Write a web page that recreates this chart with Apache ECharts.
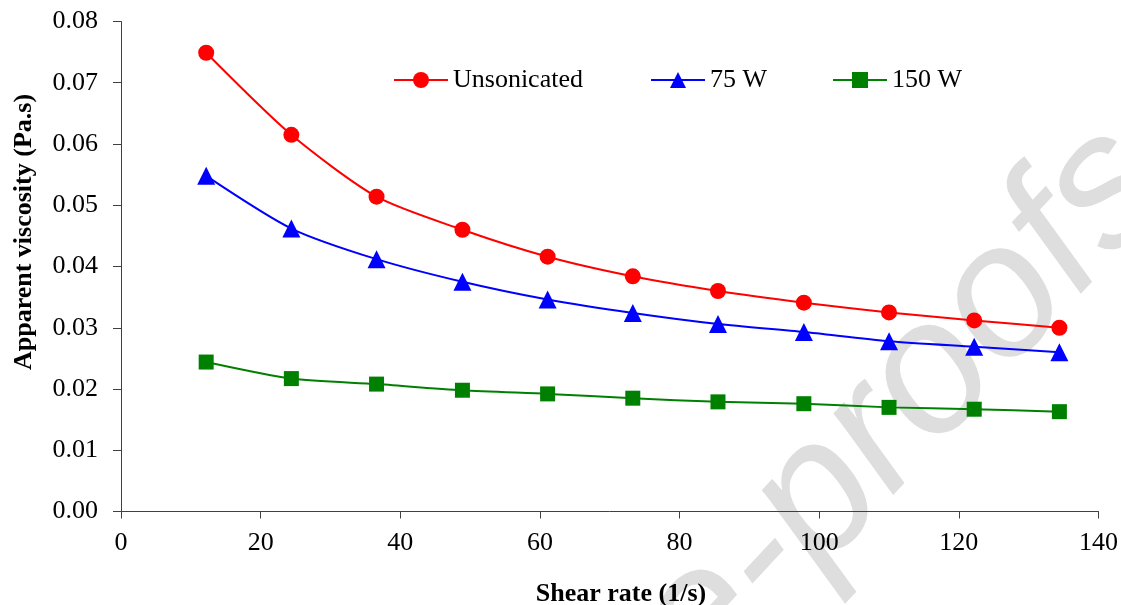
<!DOCTYPE html>
<html>
<head>
<meta charset="utf-8">
<script src="https://cdn.jsdelivr.net/npm/echarts@6/dist/echarts.min.js"></script>
<style>
  html, body { margin: 0; padding: 0; background: #fff; }
  #chart { width: 1121px; height: 605px; }
</style>
</head>
<body>
<div id="chart"></div>
<script>
// shear rate (1/s)
const shearRate = [12.2, 24.4, 36.6, 48.9, 61.1, 73.3, 85.5, 97.8, 110.0, 122.2, 134.4];
// apparent viscosity (Pa.s)
const unsonicated = [0.0749, 0.0615, 0.0514, 0.0460, 0.0416, 0.0384, 0.0360, 0.0341, 0.0325, 0.0312, 0.0300];
const w75 = [0.0548, 0.0462, 0.0412, 0.0375, 0.0346, 0.0324, 0.0306, 0.0293, 0.0278, 0.0269, 0.0260];
const w150 = [0.0244, 0.0217, 0.0208, 0.0198, 0.0192, 0.0185, 0.0179, 0.0176, 0.0170, 0.0167, 0.0163];

const seriesNames = ["Unsonicated", "75 W", "150 W"];

const pairs = (ys) => shearRate.map((x, i) => [x, ys[i]]);

const font = "'Liberation Serif', 'Times New Roman', serif";
const axisColor = "#404040";

const chart = echarts.init(document.getElementById("chart"));

// 图例各自定位
const legendBase = {
  top: 67,
  padding: 0,
  itemWidth: 54,
  itemHeight: 20,
  itemGap: 0,
  textStyle: { fontFamily: font, fontSize: 26, color: "#000" }
};

const option = {
  animation: false,
  backgroundColor: "#fff",
  grid: { left: 121, right: 21, top: 21.5, bottom: 93.5 },
  legend: [
    Object.assign({ data: [seriesNames[0]], left: 393 }, legendBase),
    Object.assign({ data: [seriesNames[1]], left: 650 }, legendBase),
    Object.assign({ data: [seriesNames[2]], left: 832 }, legendBase)
  ],
  xAxis: {
    type: "value",
    min: 0,
    max: 140,
    interval: 20,
    axisLine: { show: true, lineStyle: { color: axisColor, width: 1 } },
    axisTick: { show: true, inside: false, length: 7, lineStyle: { color: axisColor } },
    axisLabel: { fontFamily: font, fontSize: 26, color: "#000", margin: 19 },
    splitLine: { show: false }
  },
  yAxis: {
    type: "value",
    min: 0,
    max: 0.08,
    interval: 0.01,
    axisLine: { show: true, lineStyle: { color: axisColor, width: 1 } },
    axisTick: { show: true, inside: false, length: 8, lineStyle: { color: axisColor } },
    axisLabel: {
      fontFamily: font, fontSize: 26, color: "#000", margin: 23,
      padding: [3, 0, 0, 0],
      formatter: (v) => v.toFixed(2)
    },
    splitLine: { show: false }
  },
  graphic: [
    {
      // watermark
      type: "text",
      z: -10,
      x: 1138,
      y: 156,
      rotation: 0.82,
      silent: true,
      style: {
        text: "Journal Pre-proofs",
        fontFamily: "'Liberation Sans', Arial, sans-serif",
        fontStyle: "italic",
        fontSize: 188,
        fill: "#dedede",
        align: "right",
        verticalAlign: "middle"
      }
    },
    {
      type: "text",
      x: 24,
      y: 232,
      rotation: Math.PI / 2,
      style: {
        text: "Apparent viscosity (Pa.s)",
        fontFamily: font,
        fontSize: 26,
        fontWeight: "bold",
        fill: "#000",
        align: "center",
        verticalAlign: "middle"
      }
    },
    {
      type: "text",
      x: 621,
      y: 594,
      style: {
        text: "Shear rate (1/s)",
        fontFamily: font,
        fontSize: 26,
        fontWeight: "bold",
        fill: "#000",
        align: "center",
        verticalAlign: "middle"
      }
    }
  ],
  series: [
    {
      name: seriesNames[0],
      type: "line",
      data: pairs(unsonicated),
      smooth: 0.25,
      symbol: "circle",
      symbolSize: 16,
      itemStyle: { color: "#ff0000" },
      lineStyle: { color: "#ff0000", width: 2 }
    },
    {
      name: seriesNames[1],
      type: "line",
      data: pairs(w75),
      smooth: 0.25,
      symbol: "triangle",
      symbolSize: 18,
      itemStyle: { color: "#0000ff" },
      lineStyle: { color: "#0000ff", width: 2 }
    },
    {
      name: seriesNames[2],
      type: "line",
      data: pairs(w150),
      smooth: 0.25,
      symbol: "rect",
      symbolSize: 15,
      itemStyle: { color: "#008000" },
      lineStyle: { color: "#008000", width: 2 }
    }
  ]
};

chart.setOption(option);

window.addEventListener("resize", function () {
  chart.resize();
});
</script>
</body>
</html>
